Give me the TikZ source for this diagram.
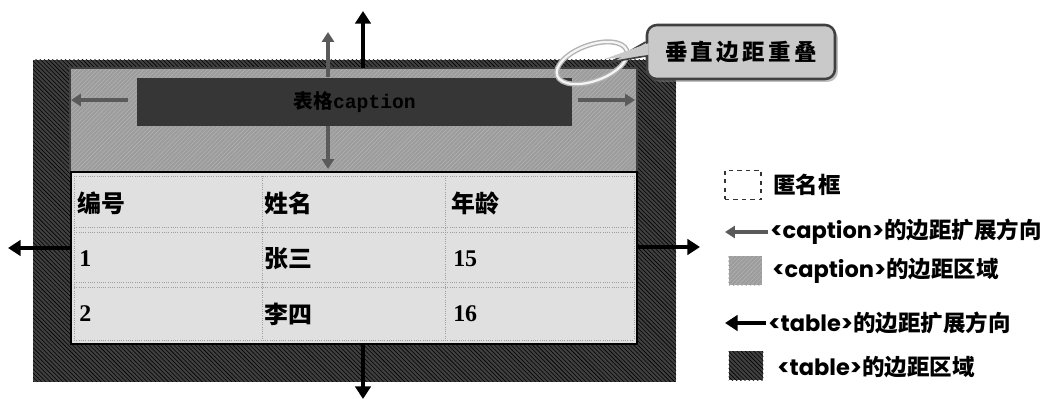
\documentclass[tikz,border=0pt]{standalone}
\usepackage{fontspec}
\setmainfont{Noto Sans CJK SC}
\newfontfamily\cjk{Noto Sans CJK SC}
\newfontfamily\lat{Poppins}
\newfontfamily\num{Liberation Serif}
\newfontfamily\mono{Liberation Mono}
\usetikzlibrary{patterns,arrows.meta,shadows,shapes.geometric}
\definecolor{tmar}{HTML}{404040}
\definecolor{cmar}{HTML}{9C9C9C}
\definecolor{cell}{HTML}{E0E0E0}
\definecolor{capbox}{HTML}{363636}
\definecolor{garrow}{HTML}{5A5A5A}
\tikzset{
  garr/.style={draw=garrow, line width=2.2pt, -{Triangle[length=7pt,width=8.5pt]}},
  barr/.style={draw=black, line width=3pt, -{Triangle[length=9pt,width=11pt]}},
  celltxt/.style={anchor=west, font=\cjk\bfseries\fontsize{17}{19}\selectfont, inner sep=0pt},
  numtxt/.style={anchor=west, font=\num\bfseries\fontsize{17}{19}\selectfont, inner sep=0pt},
  legtxt/.style={anchor=west, font=\cjk\bfseries\fontsize{16}{18}\selectfont, inner sep=0pt},
  cellline/.style={draw=gray!75, densely dotted, line width=0.6pt},
}
\begin{document}
\begin{tikzpicture}[x=0.025cm,y=-0.025cm]
\useasboundingbox (0,0) rectangle (1054,399);
% table margin region
\fill[tmar] (33,60) rectangle (676,382);
\fill[pattern=north west lines, pattern color=black] (33,60) rectangle (676,382);
% caption margin region
\fill[cmar] (70,68) rectangle (637,172);
\fill[pattern=north east lines, pattern color=gray!60] (70,68) rectangle (637,172);
\draw[black!75, line width=0.8pt] (70,68) rectangle (637,172);
% caption box
\node[name=cap, fill=capbox, minimum width=435*0.025cm, minimum height=48*0.025cm, inner sep=0pt, anchor=north west] at (137,78) {};
% table content
\fill[cell] (71,172) rectangle (637,344);
\draw[black, line width=1.6pt] (71,172) rectangle (637,344);
\draw[cellline] (74,176) -- (634,176);
\draw[cellline] (74,227) -- (634,227) (74,232) -- (634,232);
\draw[cellline] (74,282) -- (634,282) (74,287) -- (634,287);
\draw[cellline] (74,340) -- (634,340);
\draw[cellline] (74,176) -- (74,340) (634,176) -- (634,340);
\draw[cellline] (262,176) -- (262,340) (445,176) -- (445,340);
\node[celltxt] (h1) at (77,203) {编号};
\node[celltxt] (h2) at (264,203) {姓名};
\node[celltxt] (h3) at (451,203) {年龄};
\node[numtxt] (r11) at (79,259) {1};
\node[celltxt] (r12) at (264,259) {张三};
\node[numtxt] (r13) at (453,259) {15};
\node[numtxt] (r21) at (79,314) {2};
\node[celltxt] (r22) at (264,314) {李四};
\node[numtxt] (r23) at (453,314) {16};
% caption text (drawn after normal fills)
\node[font=\fontsize{14}{16}\selectfont, inner sep=0pt] (captxt) at (cap.center) {{\cjk\bfseries 表格}{\mono\bfseries caption}};
% arrow coordinates
\coordinate (cu0) at (328,77);  \coordinate (cu1) at (328,32);
\coordinate (cd0) at (328,126); \coordinate (cd1) at (328,169);
\coordinate (cl0) at (128,100); \coordinate (cl1) at (71,100);
\coordinate (cr0) at (578,100); \coordinate (cr1) at (635,100);
\coordinate (tu0) at (363,68);  \coordinate (tu1) at (363,11);
\coordinate (tl0) at (71,248);  \coordinate (tl1) at (8,248);
\coordinate (tr0) at (637,247); \coordinate (tr1) at (700,247);
\coordinate (td0) at (363,344); \coordinate (td1) at (363,399);
\draw[garr] (cu0) -- (cu1);
\draw[garr] (cd0) -- (cd1);
\draw[garr] (cl0) -- (cl1);
\draw[garr] (cr0) -- (cr1);
\draw[barr] (tu0) -- (tu1);
\draw[barr] (tl0) -- (tl1);
\draw[barr] (tr0) -- (tr1);
\draw[barr] (td0) -- (td1);
% callout
\node[name=ell, draw=gray!60, double=white!92!gray, double distance=1.6pt, line width=1pt, ellipse, minimum width=74*0.025cm, minimum height=36*0.025cm, rotate=20] at (592,63) {};
\node[name=call, fill=gray!42, draw=black!75, line width=1.8pt, rounded corners=7pt, minimum width=188*0.025cm, minimum height=54*0.025cm, inner sep=0pt, font=\cjk\bfseries\fontsize{16}{18}\selectfont\addfontfeature{LetterSpace=15}, drop shadow={shadow xshift=2pt, shadow yshift=-2pt, opacity=0.5}] at (741,52) {垂直边距重叠};
\coordinate (tip) at (611,62);
\fill[gray!42, draw=black!75, line width=1.2pt] ([yshift=0.25cm]call.west) -- (tip) -- ([yshift=-0.1cm]call.west);
\fill[gray!42] ([yshift=0.22cm,xshift=2pt]call.west) -- ([xshift=-5pt,yshift=2pt]tip) -- ([yshift=-0.07cm,xshift=2pt]call.west) -- cycle;
% legend
\node[draw=black!80, dashed, line width=1.4pt, minimum width=36*0.025cm, minimum height=29*0.025cm, inner sep=0pt, name=lg1] at (743,185) {};
\node[legtxt] (lt1) at (773,185) {匿名框};
\coordinate (la0) at (768,232); \coordinate (la1) at (725,232);
\draw[garr] (la0) -- (la1);
\node[legtxt] (lt2) at (770,232) {{\lat <caption>}的边距扩展方向};
\node[name=lg3, minimum width=33*0.025cm, minimum height=29*0.025cm, inner sep=0pt, fill=cmar] at (745,271) {};
\fill[pattern=north east lines, pattern color=gray!60] (lg3.south west) rectangle (lg3.north east);
\node[legtxt] (lt3) at (772,271) {{\lat <caption>}的边距区域};
\coordinate (lb0) at (766,323); \coordinate (lb1) at (725,323);
\draw[barr] (lb0) -- (lb1);
\node[legtxt] (lt4) at (768,323) {{\lat <table>}的边距扩展方向};
\node[name=lg5, minimum width=34*0.025cm, minimum height=29*0.025cm, inner sep=0pt, fill=tmar] at (746,366) {};
\fill[pattern=north west lines, pattern color=black] (lg5.south west) rectangle (lg5.north east);
\node[legtxt] (lt5) at (777,367) {{\lat <table>}的边距区域};
\end{tikzpicture}
\end{document}
